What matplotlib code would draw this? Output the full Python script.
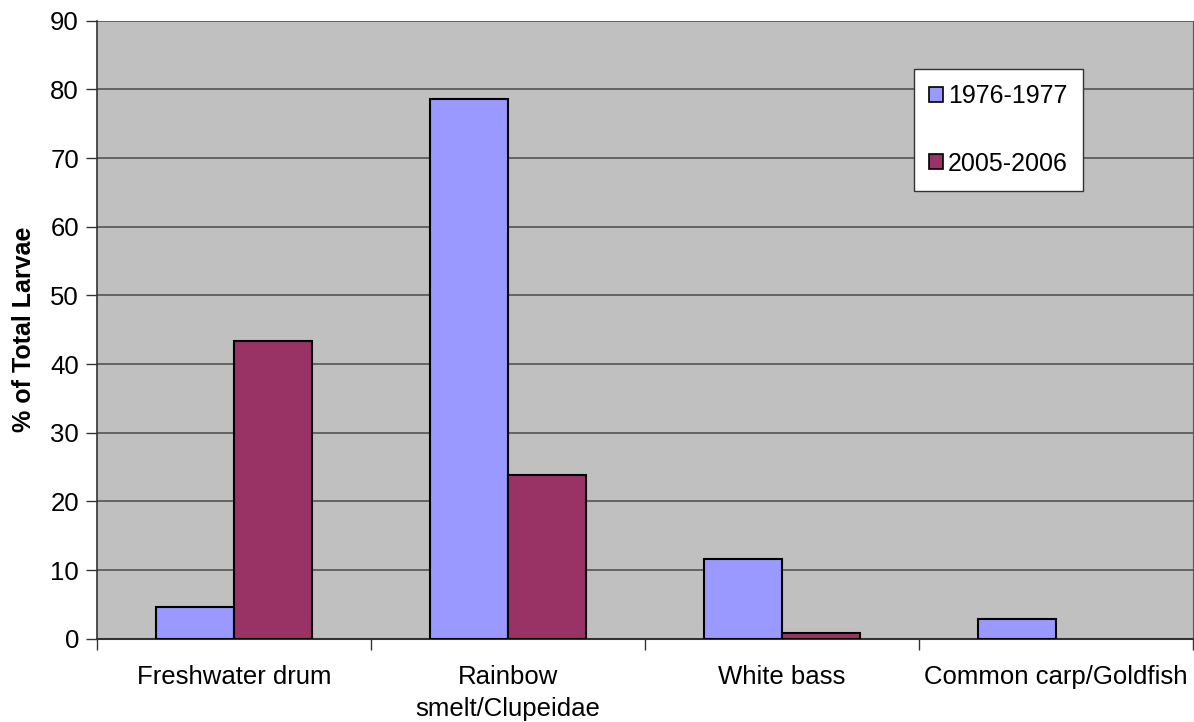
import matplotlib
matplotlib.use("Agg")
import matplotlib.pyplot as plt
import numpy as np

categories = ["Freshwater drum", "Rainbow\nsmelt/Clupeidae", "White bass", "Common carp/Goldfish"]
series_names = ["1976-1977", "2005-2006"]
vals_1976 = [4.6, 78.6, 11.6, 2.9]
vals_2005 = [43.3, 23.8, 0.9, 0.0]
yticks = [0, 10, 20, 30, 40, 50, 60, 70, 80, 90]

plt.rcParams['font.family'] = ['Liberation Sans', 'DejaVu Sans']

fig = plt.figure(figsize=(11.94, 7.22), dpi=100)
ax = fig.add_axes([0.0812, 0.1154, 0.9180, 0.8559])
ax.set_facecolor("#C0C0C0")

x = np.arange(len(categories))
w = 0.285
# zero values get no bar at all (Excel draws nothing there)
v1 = np.where(np.array(vals_1976) > 0, vals_1976, np.nan)
v2 = np.where(np.array(vals_2005) > 0, vals_2005, np.nan)
ax.bar(x - w / 2, v1, w, color="#9999FF", edgecolor="black", linewidth=1.5,
       label=series_names[0], zorder=3)
ax.bar(x + w / 2, v2, w, color="#993366", edgecolor="black", linewidth=1.5,
       label=series_names[1], zorder=3)

ax.set_xlim(-0.5, len(categories) - 0.5)
ax.set_ylim(0, 90)
ax.set_yticks(yticks)
ax.yaxis.grid(True, color="#555555", linewidth=1.2, zorder=1)
ax.set_axisbelow(True)

ax.set_xticks(x)
ax.set_xticklabels(categories, fontsize=18.5, linespacing=1.4)
ax.tick_params(axis="x", which="major", length=0, pad=19)
ax.set_xticks(np.arange(-0.5, len(categories)), minor=True)
ax.tick_params(axis="x", which="minor", length=8, width=1, color="#333333", direction="out")
ax.tick_params(axis="y", labelsize=18.5, length=8, width=1, color="#333333", pad=5)

ax.spines["top"].set_visible(False)
ax.spines["left"].set_color("#333333")
ax.spines["bottom"].set_color("#333333")
ax.spines["right"].set_color("#555555")
ax.spines["left"].set_linewidth(1.2)
ax.spines["bottom"].set_linewidth(1.5)

ax.set_ylabel("% of Total Larvae", fontsize=18, fontweight="bold", labelpad=10)

leg = ax.legend(loc="upper left", bbox_to_anchor=(0.7454, 0.9218), fontsize=18,
                frameon=True, fancybox=False, framealpha=1, edgecolor="#333333",
                handlelength=0.55, handleheight=0.55, handletextpad=0.2,
                labelspacing=1.75, borderpad=0.6, borderaxespad=0)
leg.get_frame().set_linewidth(1)
for h in leg.legend_handles:
    h.set_linewidth(1.2)

fig.savefig("out.png", dpi=100)
